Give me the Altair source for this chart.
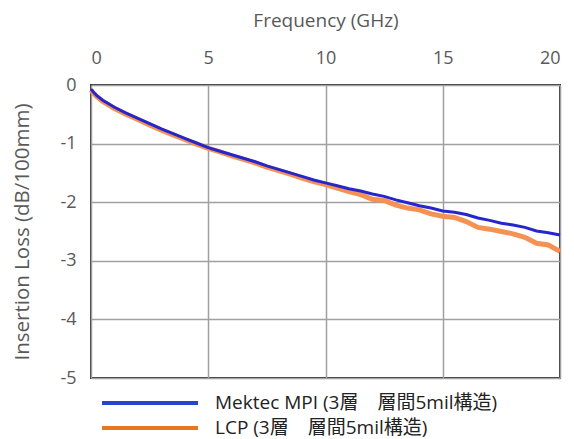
import altair as alt
import pandas as pd

freq = [0, 0.1, 0.25, 0.5, 0.75, 1, 1.5, 2, 2.5, 3, 3.5, 4, 4.5, 5, 5.5, 6, 6.5, 7, 7.5, 8,
        8.5, 9, 9.5, 10, 10.5, 11, 11.5, 12, 12.5, 13, 13.5, 14, 14.5, 15, 15.5, 16, 16.5,
        17, 17.5, 18, 18.5, 19, 19.5, 20]
mektec = [-0.07, -0.12, -0.18, -0.26, -0.32, -0.38, -0.48, -0.57, -0.66, -0.75, -0.83, -0.91,
          -0.99, -1.07, -1.13, -1.19, -1.25, -1.31, -1.38, -1.44, -1.50, -1.56, -1.62, -1.67,
          -1.72, -1.77, -1.81, -1.86, -1.90, -1.96, -2.01, -2.06, -2.10, -2.15, -2.17, -2.21,
          -2.27, -2.31, -2.36, -2.39, -2.43, -2.49, -2.52, -2.56]
lcp = [-0.09, -0.14, -0.20, -0.28, -0.34, -0.40, -0.50, -0.59, -0.68, -0.77, -0.85, -0.93,
       -1.01, -1.08, -1.14, -1.21, -1.27, -1.33, -1.40, -1.46, -1.52, -1.59, -1.65, -1.70,
       -1.76, -1.82, -1.87, -1.95, -1.97, -2.05, -2.10, -2.13, -2.20, -2.24, -2.26, -2.33,
       -2.43, -2.46, -2.50, -2.54, -2.60, -2.70, -2.73, -2.84]

names = ["Mektec MPI (3層　層間5mil構造)", "LCP (3層　層間5mil構造)"]
colors = ["#2626cc", "#f59152"]
legend_colors = ["#2444d4", "#e8761f"]
x_ticks = [0, 5, 10, 15, 20]
y_ticks = [0, -1, -2, -3, -4, -5]

df_m = pd.DataFrame({"f": freq, "v": mektec})
df_l = pd.DataFrame({"f": freq, "v": lcp})
leg = pd.DataFrame({"s": names, "c": legend_colors, "row": [0, 1]})

FONT = "Open Sans, Noto Sans CJK JP"

x_enc = alt.X("f:Q", scale=alt.Scale(domain=[0, 20], nice=False),
              axis=alt.Axis(orient="top", values=x_ticks, title="Frequency (GHz)",
                            grid=True, domain=False, ticks=False, labelPadding=18,
                            titlePadding=19))
y_enc = alt.Y("v:Q", scale=alt.Scale(domain=[-5, 0], nice=False),
              axis=alt.Axis(values=y_ticks, title="Insertion Loss (dB/100mm)",
                            grid=True, domain=False, ticks=False, labelPadding=15,
                            titlePadding=27, titleFontSize=20.5,
                            labelExpr="datum.value == 0 ? '0' : '-' + abs(datum.value)"))

line_l = alt.Chart(df_l).mark_line(strokeWidth=5, color=colors[1]).encode(
    x=x_enc, y=y_enc, order=alt.Order("f:Q"))
line_m = alt.Chart(df_m).mark_line(strokeWidth=3, color=colors[0]).encode(
    x=alt.X("f:Q"), y=alt.Y("v:Q"), order=alt.Order("f:Q"))

leg_base = alt.Chart(leg).transform_calculate(ly="318 + 25 * datum.row")

leg_rules = leg_base.mark_rule(strokeWidth=4).encode(
    x=alt.value(11), x2=alt.value(107),
    y=alt.Y("ly:Q", scale=None, axis=None),
    color=alt.Color("c:N", scale=None),
)
leg_text = leg_base.mark_text(align="left", baseline="middle", fontSize=19, font=FONT,
                              color="#222222").encode(
    x=alt.value(124),
    y=alt.Y("ly:Q", scale=None, axis=None),
    text="s:N",
)

lines = alt.layer(line_l, line_m)

chart = alt.layer(lines, leg_rules, leg_text).resolve_scale(
    y="independent"
).properties(
    width=469, height=293,
    autosize=alt.AutoSizeParams(type="none"),
    padding={"left": 83, "top": 77, "right": 6, "bottom": 63},
).configure_axis(
    gridColor="#a0a0a0", gridWidth=1.5, gridOpacity=1,
    labelColor="#595959", labelFontSize=18, labelFont=FONT,
    titleColor="#595959", titleFontSize=19, titleFont=FONT, titleFontWeight="normal",
).configure_view(
    stroke="#333333", strokeWidth=2,
)

chart.save("out.html", embed_options={"renderer": "svg", "actions": False})
